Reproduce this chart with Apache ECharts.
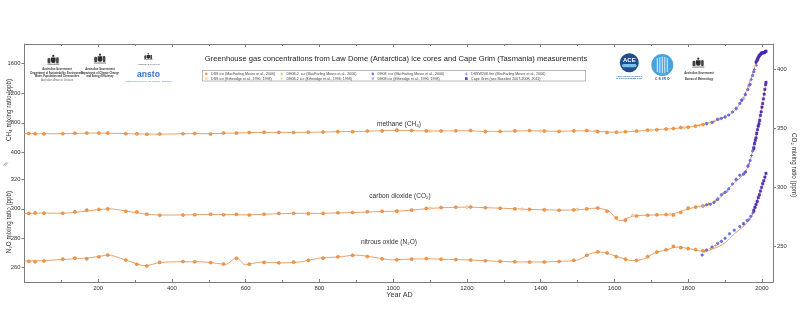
<!DOCTYPE html>
<html>
<head>
<meta charset="utf-8">
<script src="https://cdn.jsdelivr.net/npm/echarts@6/dist/echarts.min.js"></script>
<style>
  html, body { margin: 0; padding: 0; background: #fff; }
  #chart { width: 800px; height: 331px; }
</style>
</head>
<body>
<div id="chart"></div>
<script>
// ---- Law Dome ice-core / firn and Cape Grim records ----

// Ice-core sample years (DSS core) shared by the three gases
const ICE_YEARS = [12, 29, 53, 104, 137, 169, 202, 226, 275, 305, 332, 367, 430, 462, 505, 540, 575, 610,
  650, 690, 730, 770, 810, 850, 890, 930, 970, 1010, 1050, 1090, 1130, 1170, 1210, 1250, 1290, 1330,
  1370, 1410, 1450, 1490, 1525, 1555, 1580, 1605, 1630, 1660, 1690, 1715, 1740, 1760, 1780, 1800, 1820, 1840];

// DSS ice (MacFarling Meure et al., 2006)
const CH4_ICE = [655, 652, 650, 652, 658, 660, 662, 660, 652, 650, 645, 648, 652, 655, 648, 662, 660, 668,
  672, 670, 668, 672, 675, 680, 678, 688, 690, 700, 695, 690, 688, 692, 696, 680, 682, 690,
  695, 688, 682, 690, 695, 680, 668, 672, 678, 688, 700, 705, 715, 722, 735, 740, 755, 775];
const CO2_ICE = [278.2, 278.6, 278.4, 278.3, 279.5, 281, 281.5, 282, 280, 279.5, 277.5, 276.6, 276.8, 277, 277.5, 277, 277.4, 276.8,
  277.5, 278.2, 278.3, 278, 278.2, 278.8, 279, 279.6, 280, 280.2, 281, 282.4, 283.2, 283.4, 283.6, 283, 282.6, 282,
  281.6, 281.2, 280.8, 281.2, 282, 282.8, 280, 274.5, 272.5, 276, 276.6, 277, 277.2, 276.8, 279, 282.5, 283.5, 284.5];
const N2O_ICE = [264.3, 264, 264.6, 265.8, 266.5, 266, 267.4, 268.6, 265.2, 262.3, 261.2, 263.6, 264.2, 264, 263.5, 262.5, 266.4, 262.4,
  263.6, 263.3, 263.8, 265, 266.5, 267.4, 268.4, 267.6, 266, 265.4, 265.8, 266.2, 265.7, 265.5, 265.2, 264.7, 264.3, 264,
  263.8, 263.9, 264.2, 265, 268.5, 270.8, 270, 267.5, 265.8, 265, 267.5, 270.6, 272.2, 274.5, 273.6, 273, 272.4, 271.5];

// Smoothing-spline fits
const CH4_FIT_YEARS = [0, 50, 100, 150, 200, 250, 300, 350, 400, 450, 500, 550, 600, 650, 700, 750, 800, 850, 900, 950,
  1000, 1050, 1100, 1150, 1200, 1250, 1300, 1350, 1400, 1450, 1500, 1550, 1600, 1650, 1700, 1750, 1800, 1850,
  1875, 1900, 1925, 1950, 1960, 1970, 1980, 1990, 2000, 2011];
const CH4_FIT = [654, 651, 652, 657, 661, 656, 650, 647, 648, 653, 652, 658, 665, 670, 669, 670, 674, 679, 682, 689,
  697, 694, 689, 690, 692, 683, 684, 691, 690, 684, 691, 686, 671, 683, 702, 718, 741, 790,
  830, 880, 960, 1140, 1260, 1400, 1550, 1680, 1740, 1770];

const CO2_FIT_YEARS = [0, 50, 100, 150, 200, 230, 270, 320, 370, 450, 500, 550, 600, 650, 700, 750, 800, 850, 900, 950,
  1000, 1050, 1100, 1150, 1200, 1250, 1300, 1350, 1400, 1450, 1500, 1550, 1585, 1615, 1650, 1700, 1750, 1800, 1850,
  1875, 1900, 1925, 1950, 1960, 1970, 1980, 1990, 2000, 2011];
const CO2_FIT = [278, 278.5, 278.3, 279.5, 281.3, 282, 280.5, 278, 276.8, 277, 277.4, 277.2, 277, 277.5, 278, 278.3, 278.2, 278.6, 279, 279.6,
  280, 281, 282.4, 283.2, 283.5, 283, 282.5, 281.8, 281.3, 281, 281.2, 282.6, 280, 272, 275.8, 276.8, 277.3, 282, 285.5,
  288.5, 296, 304, 311, 316, 325, 338, 353, 368, 389];

const N2O_FIT_YEARS = [0, 50, 100, 150, 200, 227, 260, 300, 327, 370, 420, 480, 520, 545, 575, 600, 640, 700, 750, 800,
  850, 900, 950, 1000, 1050, 1100, 1150, 1200, 1260, 1300, 1350, 1400, 1450, 1500, 1535, 1562, 1590, 1616, 1650,
  1680, 1710, 1740, 1770, 1806, 1840, 1870, 1900, 1925, 1950, 1970, 1980, 1990, 2000, 2011];
const N2O_FIT = [264.5, 264.8, 265.5, 266.2, 267.5, 268.6, 266.5, 263, 261.4, 263.6, 264, 264, 263, 262.3, 266.5, 262, 263.8, 263.3, 264, 266.5,
  267.2, 268.5, 267, 265.3, 265.9, 266, 265.6, 265.3, 264.6, 264.2, 263.9, 263.9, 264.3, 265.2, 269.5, 270.6, 269, 266.8, 264.8,
  266, 270, 272, 274, 272.8, 271.2, 273, 277, 283, 288, 294, 300, 308, 315, 323.5];

// DE08-2 ice (MacFarling Meure et al., 2006)
const CH4_DE082 = [[1830, 760], [1850, 785], [1870, 815], [1890, 855]];
const CO2_DE082 = [[1840, 284], [1855, 286], [1875, 289], [1895, 295]];
const N2O_DE082 = [[1845, 271], [1860, 273], [1875, 275], [1890, 277.5]];

// DE08 ice (MacFarling Meure et al., 2006)
const CH4_DE08 = [[1850, 790], [1865, 805], [1880, 845], [1890, 860], [1900, 880], [1910, 905], [1920, 945], [1930, 990],
  [1940, 1060], [1945, 1100], [1955, 1180], [1962, 1250], [1968, 1320], [1975, 1440], [1978, 1490]];
const CO2_DE08 = [[1850, 285.5], [1860, 286], [1870, 287.5], [1880, 290], [1890, 294], [1900, 296], [1910, 299], [1920, 303],
  [1930, 307], [1940, 310.5], [1950, 311.5], [1955, 313], [1962, 318], [1968, 323], [1975, 331], [1978, 334]];
const N2O_DE08 = [[1838, 268.6], [1850, 272], [1865, 274], [1880, 276.5], [1890, 278], [1900, 280], [1912, 283], [1925, 285.5],
  [1940, 288], [1950, 290], [1960, 292], [1970, 295], [1978, 298]];

// DSSW20K firn (MacFarling Meure et al., 2006)
const CH4_FIRN = [[1945, 1110], [1955, 1190], [1965, 1300], [1972, 1390], [1980, 1520], [1985, 1580], [1990, 1650], [1993, 1690]];
const CO2_FIRN = [[1955, 313.5], [1965, 320], [1972, 327], [1980, 338], [1985, 345], [1990, 352], [1993, 356]];
const N2O_FIRN = [[1950, 289.5], [1965, 293], [1975, 297], [1982, 301], [1988, 305], [1993, 309]];

// Cape Grim in-situ / flask
const CH4_CGO = [[1984, 1620], [1986, 1640], [1988, 1665], [1990, 1685], [1992, 1705], [1994, 1715], [1996, 1725], [1998, 1740],
  [2000, 1745], [2002, 1748], [2004, 1748], [2006, 1749], [2008, 1758], [2010, 1765], [2011, 1770]];
const CO2_CGO = [[1978, 333], [1980, 337], [1982, 340], [1984, 342], [1986, 346], [1988, 349], [1990, 352], [1992, 354], [1994, 357],
  [1996, 361], [1998, 364], [2000, 368], [2002, 371], [2004, 375], [2006, 379], [2008, 383], [2010, 387], [2011, 389]];
const N2O_CGO = [[1978, 299], [1981, 301], [1984, 303], [1987, 305], [1990, 307.5], [1993, 309.5], [1996, 312], [1999, 314.5],
  [2002, 317], [2005, 319], [2008, 321.5], [2011, 324]];

// Etheridge et al. (1996; 1998) records
const CH4_DSS_E = [[1010, 695], [1100, 688], [1250, 684], [1400, 690], [1550, 686], [1700, 700], [1790, 735]];
const CO2_DSS_E = [[1010, 279.5], [1100, 282.6], [1200, 283.4], [1350, 281.7], [1500, 281.5], [1650, 276.4], [1750, 277.3], [1800, 282.8]];
const CH4_DE082_E = [[1860, 805], [1885, 850], [1930, 990]];
const CO2_DE082_E = [[1830, 283.8], [1870, 288], [1895, 295.5], [1940, 310]];
const CH4_DE08_E = [[1880, 850], [1900, 875], [1930, 1000], [1950, 1130], [1970, 1380]];
const CO2_DE08_E = [[1840, 284.6], [1880, 290.6], [1905, 297], [1930, 306.5], [1950, 311.2], [1962, 318.5], [1978, 334.2]];

// Axis ticks
const X_TICK_STEP = 200;
const CH4_TICKS = [400, 800, 1200, 1600];
const N2O_TICKS = [260, 280, 300, 320];
const CO2_TICKS = [250, 300, 350, 400];

// ---- Drawing ----
const DSS_M = 'DSS ice (MacFarling Meure et al., 2006)';
const DSS_E = 'DSS ice (Etheridge et al., 1996; 1998)';
const DE082_M = 'DE08-2  ice (MacFarling Meure et al., 2006)';
const DE082_E = 'DE08-2 ice (Etheridge et al., 1996; 1998)';
const DE08_M = 'DE08  ice (MacFarling Meure et al., 2006)';
const DE08_E = 'DE08 ice (Etheridge et al., 1996; 1998)';
const FIRN = 'DSSW20K firn (MacFarling Meure et al., 2006)';
const CGO = 'Cape Grim (see Baseline 2007-2008, 2011)';

const PLUS = 'path://M4,0H6V4H10V6H6V10H4V6H0V4H4Z';
const STYLES = {
  [DSS_M]:   { symbol: 'circle', size: 3.1, color: '#f59a45', border: '#d8782f' },
  [DSS_E]:   { symbol: 'circle', size: 2.8, color: '#f7d2ae', border: '#e9b482' },
  [DE082_M]: { symbol: PLUS, size: 3.2, color: '#e88a3c', border: null },
  [DE082_E]: { symbol: PLUS, size: 3, color: '#f0b27a', border: null },
  [DE08_M]:  { symbol: 'circle', size: 2.5, color: '#6f78e6', border: '#4d55c8' },
  [DE08_E]:  { symbol: 'circle', size: 2.4, color: '#a7b0f2', border: '#8a94e0' },
  [FIRN]:    { symbol: PLUS, size: 3.2, color: '#7443c9', border: null },
  [CGO]:     { symbol: 'rect', size: 2.3, color: '#5632bf', border: '#3f22a0' }
};
const AX = { CH4: 0, N2O: 1, CO2: 2 };

function pairs(years, vals) { return years.map((y, i) => [y, vals[i]]); }

function fitLine(data, yIdx) {
  return { type: 'line', data, yAxisIndex: yIdx, smooth: 0.35, showSymbol: false, silent: true,
    lineStyle: { color: '#e4975f', width: 0.9 }, z: 2 };
}
function points(name, data, yIdx) {
  const s = STYLES[name];
  return { type: 'scatter', name, data, yAxisIndex: yIdx, symbol: s.symbol, symbolSize: s.size,
    itemStyle: { color: s.color, borderColor: s.border || s.color, borderWidth: s.border ? 0.5 : 0, opacity: 1 }, z: 3 };
}

const series = [
  fitLine(pairs(CH4_FIT_YEARS, CH4_FIT), AX.CH4),
  fitLine(pairs(CO2_FIT_YEARS, CO2_FIT), AX.CO2),
  fitLine(pairs(N2O_FIT_YEARS, N2O_FIT), AX.N2O),
  points(DSS_E, CH4_DSS_E, AX.CH4), points(DSS_E, CO2_DSS_E, AX.CO2),
  points(DSS_M, pairs(ICE_YEARS, CH4_ICE), AX.CH4),
  points(DSS_M, pairs(ICE_YEARS, CO2_ICE), AX.CO2),
  points(DSS_M, pairs(ICE_YEARS, N2O_ICE), AX.N2O),
  points(DE082_E, CH4_DE082_E, AX.CH4), points(DE082_E, CO2_DE082_E, AX.CO2),
  points(DE082_M, CH4_DE082, AX.CH4), points(DE082_M, CO2_DE082, AX.CO2), points(DE082_M, N2O_DE082, AX.N2O),
  points(DE08_E, CH4_DE08_E, AX.CH4), points(DE08_E, CO2_DE08_E, AX.CO2),
  points(DE08_M, CH4_DE08, AX.CH4), points(DE08_M, CO2_DE08, AX.CO2), points(DE08_M, N2O_DE08, AX.N2O),
  points(FIRN, CH4_FIRN, AX.CH4), points(FIRN, CO2_FIRN, AX.CO2), points(FIRN, N2O_FIRN, AX.N2O),
  points(CGO, CH4_CGO, AX.CH4), points(CGO, CO2_CGO, AX.CO2), points(CGO, N2O_CGO, AX.N2O)
];

// legend: two rows of four entries inside a thin box
const LEGEND_SLOTS = [
  [DSS_M, 205, 71.9], [DE082_M, 280.5, 71.9], [DE08_M, 371.5, 71.9], [FIRN, 465, 71.9],
  [DSS_E, 205, 76.6], [DE082_E, 280.5, 76.6], [DE08_E, 371.5, 76.6], [CGO, 465, 76.6]
];
const legend = LEGEND_SLOTS.map(([name, left, top]) => ({
  data: [name], left, top, padding: 0, itemWidth: 2.6, itemHeight: 2.6, itemGap: 0, selectedMode: false,
  itemStyle: { borderWidth: 0 },
  textStyle: { fontSize: 3.6, color: '#444', padding: [0, 0, 0, -1.5] }
}));

const AXIS_GREY = '#7d7d7d';
const FONT = '"Liberation Sans", Arial, sans-serif';

function yAxis(position, min, max, ticks, showLine) {
  return {
    type: 'value', position, min, max,
    axisLine: { show: showLine, lineStyle: { color: AXIS_GREY, width: 1 } },
    axisTick: { show: true, length: 3, customValues: ticks, lineStyle: { color: AXIS_GREY } },
    axisLabel: { customValues: ticks, fontSize: 5.8, color: '#333', margin: 4, fontFamily: FONT,
      formatter: v => String(v) },
    splitLine: { show: false }
  };
}
function xAxis(position, labels) {
  return {
    type: 'value', position, min: 0, max: 2030, interval: X_TICK_STEP,
    axisLine: { show: true, onZero: false, lineStyle: { color: AXIS_GREY, width: 1 } },
    axisTick: { show: true, inside: true, length: 3, lineStyle: { color: AXIS_GREY } },
    minorTick: { show: true, splitNumber: 2, length: 2, lineStyle: { color: AXIS_GREY } },
    axisLabel: { show: labels, fontSize: 6, color: '#333', margin: 3, fontFamily: FONT,
      formatter: v => (v > 0 && v % X_TICK_STEP === 0) ? String(v) : '' },
    splitLine: { show: false }
  };
}

// small emblem drawn from simple shapes
function crest(x, y, s) {
  return {
    type: 'group', x, y, scaleX: s, scaleY: s, silent: true,
    children: [
      { type: 'circle', shape: { cx: 0, cy: -4.6, r: 1.1 }, style: { fill: '#333' } },
      { type: 'rect', shape: { x: -2.3, y: -3, width: 4.6, height: 5.4, r: [0, 0, 2, 2] }, style: { fill: '#2b2b2b' } },
      { type: 'rect', shape: { x: -5.8, y: -2.6, width: 3, height: 5.6, r: 1.4 }, style: { fill: '#454545' } },
      { type: 'rect', shape: { x: 2.8, y: -3.2, width: 2.6, height: 6.2, r: 1.2 }, style: { fill: '#454545' } },
      { type: 'rect', shape: { x: -6, y: 3.2, width: 12, height: 1.1 }, style: { fill: '#8a8a8a' } }
    ]
  };
}
function tinyText(x, y, text, size, color, weight) {
  return { type: 'text', x, y, silent: true, style: { text, fontSize: size, fill: color || '#444',
    fontWeight: weight || 'normal', fontFamily: FONT, align: 'center', verticalAlign: 'middle' } };
}

const graphic = [
  // title
  { type: 'text', x: 396, y: 59, style: { text: 'Greenhouse gas concentrations from Law Dome (Antarctica) ice cores and Cape Grim (Tasmania) measurements',
    fontSize: 7.6, fill: '#222', fontFamily: FONT, align: 'center', verticalAlign: 'middle' } },
  // legend frame
  { type: 'rect', shape: { x: 202.5, y: 70.5, width: 383, height: 10.5 }, style: { fill: 'none', stroke: '#8a8a8a', lineWidth: 0.6 }, z: -1 },
  // curve names
  { type: 'text', x: 399, y: 124, style: { text: 'methane (CH₄)', fontSize: 6.6, fill: '#333', fontFamily: FONT, align: 'center', verticalAlign: 'middle' } },
  { type: 'text', x: 400, y: 196, style: { text: 'carbon dioxide (CO₂)', fontSize: 6.6, fill: '#333', fontFamily: FONT, align: 'center', verticalAlign: 'middle' } },
  { type: 'text', x: 389, y: 242.5, style: { text: 'nitrous oxide (N₂O)', fontSize: 6.6, fill: '#333', fontFamily: FONT, align: 'center', verticalAlign: 'middle' } },
  // axis names
  { type: 'text', x: 9.5, y: 110, rotation: Math.PI / 2, style: { text: 'CH₄ mixing ratio (ppb)', fontSize: 6.3, fill: '#333', fontFamily: FONT, align: 'center', verticalAlign: 'middle' } },
  { type: 'text', x: 9.5, y: 222, rotation: Math.PI / 2, style: { text: 'N₂O mixing ratio (ppb)', fontSize: 6.3, fill: '#333', fontFamily: FONT, align: 'center', verticalAlign: 'middle' } },
  { type: 'text', x: 794, y: 165, rotation: -Math.PI / 2, style: { text: 'CO₂ mixing ratio (ppm)', fontSize: 6.3, fill: '#333', fontFamily: FONT, align: 'center', verticalAlign: 'middle' } },
  { type: 'text', x: 399.5, y: 295, style: { text: 'Year AD', fontSize: 7.2, fill: '#333', fontFamily: FONT, align: 'center', verticalAlign: 'middle' } },
  // axis break mark
  { type: 'line', shape: { x1: 3.5, y1: 165.5, x2: 6, y2: 162.5 }, style: { stroke: '#555', lineWidth: 0.6 } },
  { type: 'line', shape: { x1: 5.3, y1: 165.5, x2: 7.8, y2: 162.5 }, style: { stroke: '#555', lineWidth: 0.6 } },

  // agency marks, left
  crest(53.3, 60.5, 1),
  tinyText(57, 69.3, 'Australian Government', 2.7, '#333', 'bold'),
  tinyText(57, 73.3, 'Department of Sustainability, Environment,', 2.6, '#333', 'bold'),
  tinyText(57, 76.7, 'Water, Population and Communities', 2.6, '#333', 'bold'),
  tinyText(57, 80, 'Australian Antarctic Division', 2.6, '#666'),
  crest(100, 59.3, 1),
  tinyText(100, 69.3, 'Australian Government', 2.7, '#333', 'bold'),
  tinyText(100, 73.3, 'Department of Climate Change', 2.6, '#333', 'bold'),
  tinyText(100, 76.7, 'and Energy Efficiency', 2.6, '#333', 'bold'),
  crest(148.3, 57, 0.7),
  tinyText(148.3, 64.3, 'Australian Government', 2.2, '#444'),
  tinyText(148.5, 75, 'ansto', 8.6, '#3a70c4', 'bold'),
  tinyText(148.5, 81.7, 'Australian Nuclear Science and Technology Organisation', 1.9, '#5a7fbf'),

  // agency marks, right
  { type: 'circle', shape: { cx: 629.3, cy: 62.7, r: 9.5 }, style: { fill: '#1f4f8f' }, silent: true },
  { type: 'rect', shape: { x: 622, y: 64, width: 14.6, height: 3.2, r: 1.6 }, style: { fill: '#7cc3ec' }, silent: true },
  tinyText(629.3, 60.5, 'ACE', 6, '#ffffff', 'bold'),
  tinyText(629.3, 76, 'ANTARCTIC CLIMATE', 2.5, '#2a5d9a', 'bold'),
  tinyText(629.3, 78.4, '& ECOSYSTEMS CRC', 2.5, '#2a5d9a', 'bold'),
  { type: 'circle', shape: { cx: 662.3, cy: 65, r: 11 }, style: { fill: '#4aa3dd' }, silent: true },
  { type: 'rect', shape: { x: 656.8, y: 58, width: 1, height: 14 }, style: { fill: '#d9eefa' }, silent: true },
  { type: 'rect', shape: { x: 659.3, y: 57, width: 1, height: 16 }, style: { fill: '#d9eefa' }, silent: true },
  { type: 'rect', shape: { x: 661.8, y: 56.5, width: 1, height: 17 }, style: { fill: '#d9eefa' }, silent: true },
  { type: 'rect', shape: { x: 664.3, y: 57, width: 1, height: 16 }, style: { fill: '#d9eefa' }, silent: true },
  { type: 'rect', shape: { x: 666.8, y: 58, width: 1, height: 14 }, style: { fill: '#d9eefa' }, silent: true },
  tinyText(662.3, 79.5, 'C S I R O', 3.4, '#1f4f8f', 'bold'),
  crest(698.3, 63.3, 1),
  tinyText(699, 73.3, 'Australian Government', 2.7, '#333', 'bold'),
  tinyText(699, 79, 'Bureau of Meteorology', 2.6, '#333', 'bold')
];

const option = {
  animation: false,
  backgroundColor: '#ffffff',
  textStyle: { fontFamily: FONT },
  grid: { left: 24.4, right: 27, top: 44, bottom: 49, containLabel: false },
  xAxis: [xAxis('bottom', true), xAxis('top', false)],
  yAxis: [
    yAxis('left', -1356.5, 1866.8, CH4_TICKS, true),
    yAxis('left', 250.3, 411.8, N2O_TICKS, false),
    yAxis('right', 220.2, 421.4, CO2_TICKS, true)
  ],
  legend,
  series,
  graphic
};

const chart = echarts.init(document.getElementById('chart'), null, { renderer: 'canvas' });
chart.setOption(option);
</script>
</body>
</html>
